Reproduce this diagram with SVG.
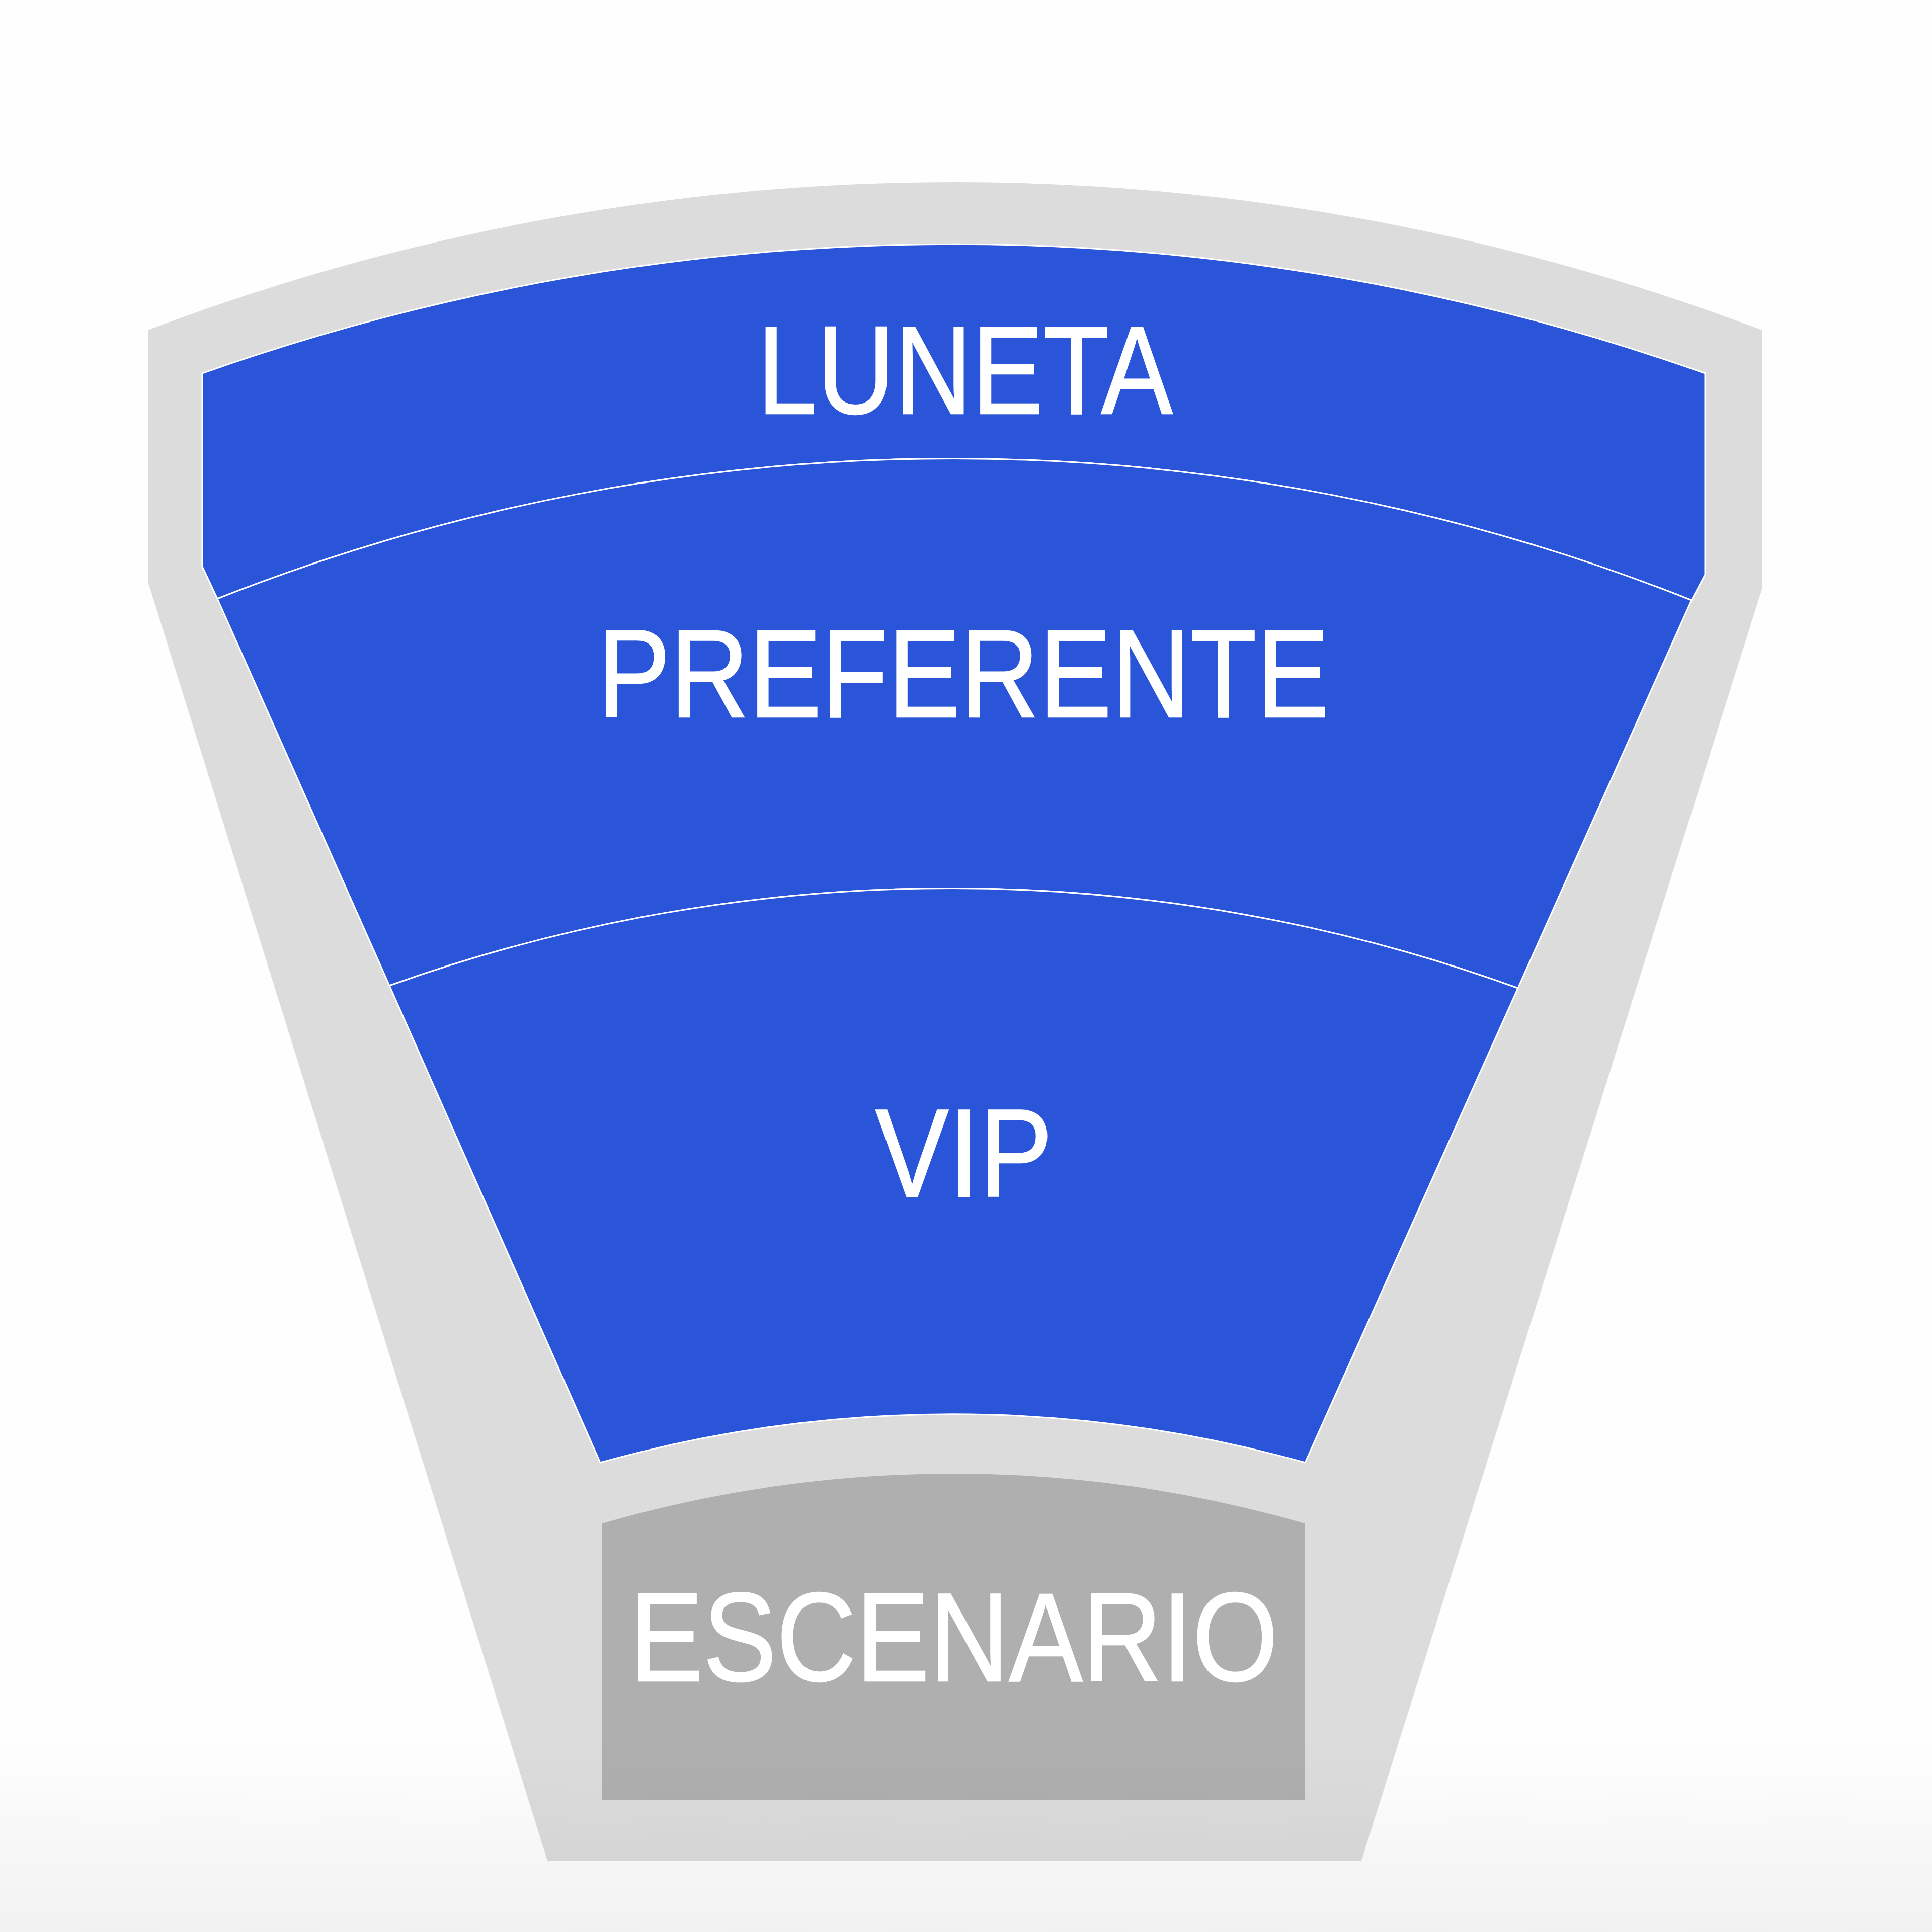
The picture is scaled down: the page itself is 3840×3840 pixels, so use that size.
<svg xmlns="http://www.w3.org/2000/svg" width="3840" height="3840" viewBox="0 0 3840 3840">
  <defs>
    <linearGradient id="bgShade" x1="0" y1="0" x2="0" y2="1">
      <stop offset="0" stop-color="#000000" stop-opacity="0"/>
      <stop offset="1" stop-color="#000000" stop-opacity="0.05"/>
    </linearGradient>
  </defs>
  <style>
    .zone { fill: #2B55D8; stroke: #FFFFFF; stroke-width: 3; stroke-linejoin: round; }
    .stage { fill: #AFAFAF; }
    .frame { fill: #DCDCDC; }
    .label { font-family: "Liberation Sans", Arial, Helvetica, sans-serif; fill: #FFFFFF; stroke: #FFFFFF; stroke-width: 2.5; text-anchor: middle; }
  </style>
  <rect x="0" y="0" width="3840" height="3840" fill="#FEFEFE"/>
  <g id="frame">
    <path class="frame" d="M294,656 A4522,4522 0 0 1 3502,656 L3502,1171 L2706,3698 L1088,3698 L294,1156 Z"/>
  </g>
  <g id="luneta">
    <path class="zone" d="M402,742 A4471,4471 0 0 1 3389,742 L3389,1142 L3362,1193 A3972,3972 0 0 0 432,1190 L402,1126 Z"/>
    <text class="label" transform="translate(1918,822) scale(0.86,1)" x="0" y="0" font-size="248">LUNETA</text>
  </g>
  <g id="preferente">
    <path class="zone" d="M432,1190 A3972,3972 0 0 1 3362,1193 L3017,1964 A3307,3307 0 0 0 774,1959 Z"/>
    <text class="label" transform="translate(1915,1425) scale(0.872,1)" x="0" y="0" font-size="248">PREFERENTE</text>
  </g>
  <g id="vip">
    <path class="zone" d="M774,1959 A3307,3307 0 0 1 3017,1964 L2594,2907 A2600,2600 0 0 0 1193,2907 Z"/>
    <text class="label" transform="translate(1916,2378) scale(0.88,1)" x="0" y="0" font-size="248">VIP</text>
  </g>
  <g id="escenario">
    <path class="stage" d="M1197,3028 A2510,2510 0 0 1 2593,3028 L2593,3577 L1197,3577 Z"/>
    <text class="label" transform="translate(1896,3341) scale(0.872,1)" x="0" y="0" font-size="251">ESCENARIO</text>
  </g>
  <g id="connectors"></g>
  <rect x="0" y="3450" width="3840" height="390" fill="url(#bgShade)"/>
</svg>
